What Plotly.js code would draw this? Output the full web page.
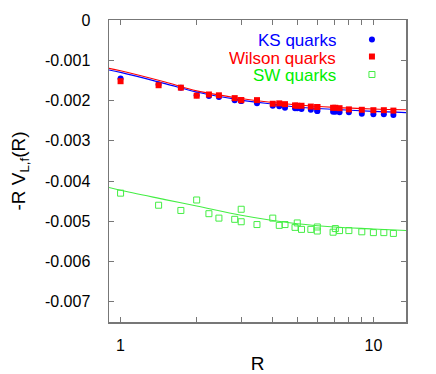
<!DOCTYPE html>
<html>
<head>
<meta charset="utf-8">
<script src="https://cdn.plot.ly/plotly-3.0.1.min.js"></script>
<style>
  html, body { margin: 0; padding: 0; background: #fff; }
  #plot { width: 436px; height: 374px; }
</style>
</head>
<body>
<div id="plot"></div>
<script>
// separation R (lattice units)
const R = [1, 1.414, 1.732, 2, 2.236, 2.449, 2.828, 3, 3, 3.464, 4, 4.243, 4.472, 4.899, 5,
  5.196, 5.657, 6, 6, 6.928, 7.071, 7.348, 8, 9, 10, 11, 12];

const ksVals = [-0.00145, -0.0016, -0.00168, -0.00187, -0.00189, -0.00191, -0.00199, -0.00201, -0.00201,
  -0.00207, -0.00213, -0.00214, -0.00218, -0.00219, -0.00219, -0.00221, -0.00223, -0.00226, -0.00226,
  -0.00228, -0.00228, -0.00229, -0.00229, -0.00233, -0.00234, -0.00234, -0.00236];

const wilsonVals = [-0.00152, -0.00162, -0.00168, -0.00188, -0.00185, -0.00187, -0.00194, -0.00199, -0.00199,
  -0.00199, -0.00208, -0.00207, -0.00209, -0.00212, -0.00213, -0.00213, -0.00215, -0.00216, -0.00216,
  -0.00218, -0.00218, -0.00219, -0.00222, -0.00223, -0.00224, -0.00224, -0.00225];

const swVals = [-0.0043, -0.0046, -0.00473, -0.00447, -0.00481, -0.00492, -0.00495, -0.0047, -0.00501,
  -0.00508, -0.00492, -0.0051, -0.00508, -0.00515, -0.00504, -0.0052, -0.0052, -0.00514, -0.00524,
  -0.00527, -0.00518, -0.00523, -0.00523, -0.00526, -0.00528, -0.00528, -0.0053];

// fit curves
const fitR = [0.9, 1, 1.5, 2, 3, 4, 5, 7, 10, 13.5];
const ksFit = [-0.00124, -0.0013, -0.00158, -0.00179, -0.00199, -0.00209, -0.00216, -0.00222, -0.00227, -0.0023];
const wilsonFit = [-0.0012, -0.00126, -0.00154, -0.00176, -0.00195, -0.00205, -0.00211, -0.00217, -0.00221, -0.00223];
const swFit = [-0.00416, -0.00423, -0.00446, -0.00462, -0.00485, -0.00498, -0.00506, -0.00514, -0.00519, -0.00523];

const seriesNames = ["KS quarks", "Wilson quarks", "SW quarks"];

const xTickVals = [1, 2, 3, 4, 5, 6, 7, 8, 9, 10];
const xTickText = ["1", "", "", "", "", "", "", "", "", "10"];
const yTickVals = [0, -0.001, -0.002, -0.003, -0.004, -0.005, -0.006, -0.007];
const yTickText = ["0", "-0.001", "-0.002", "-0.003", "-0.004", "-0.005", "-0.006", "-0.007"];

const BLUE = "#0000ff", RED = "#ff0000", GREEN = "#00ee00", LGREEN = "#44ee44";

function fitTrace(y, color) {
  return {
    type: "scatter", mode: "lines", x: fitR, y: y,
    line: { color: color, width: 1.1, shape: "spline" },
    showlegend: false, hoverinfo: "skip"
  };
}

const traces = [
  fitTrace(wilsonFit, RED),
  fitTrace(ksFit, BLUE),
  fitTrace(swFit, LGREEN),
  {
    type: "scatter", mode: "markers", x: R, y: ksVals, name: " ", legend: "legend",
    marker: { symbol: "circle", size: 6, color: BLUE }
  },
  {
    type: "scatter", mode: "markers", x: R, y: wilsonVals, name: " ", legend: "legend2",
    marker: { symbol: "square", size: 6, color: RED }
  },
  {
    type: "scatter", mode: "markers", x: R, y: swVals, name: " ", legend: "legend3",
    marker: { symbol: "square-open", size: 6, color: LGREEN, line: { width: 1 } }
  }
];

const font = { family: "Liberation Sans, Arial, sans-serif", size: 16, color: "#000" };

function legendAt(y) {
  return { x: 0.818, y: y, xanchor: "left", yanchor: "top", bgcolor: "rgba(0,0,0,0)", font: { size: 12 } };
}

const layout = {
  width: 436, height: 374,
  margin: { l: 109, r: 30, t: 20, b: 52 },
  paper_bgcolor: "#fff", plot_bgcolor: "#fff",
  font: font,
  showlegend: true,
  legend: legendAt(0.9834),
  legend2: legendAt(0.9271),
  legend3: legendAt(0.8676),
  xaxis: {
    type: "log", range: [Math.log10(0.9), Math.log10(13.46)],
    tickvals: xTickVals, ticktext: xTickText,
    ticks: "inside", ticklen: 5, tickcolor: "#777", tickwidth: 1,
    showline: true, linecolor: "#777", linewidth: 1.5, mirror: "ticks",
    showgrid: false, zeroline: false, ticklabelstandoff: 8,
    title: { text: "R", standoff: 8 }
  },
  yaxis: {
    range: [-0.0075, 0],
    tickvals: yTickVals, ticktext: yTickText,
    ticks: "inside", ticklen: 5, tickcolor: "#777", tickwidth: 1,
    showline: true, linecolor: "#777", linewidth: 1.5, mirror: "ticks",
    showgrid: false, zeroline: false, ticklabelstandoff: 14,
    title: { text: "-R V<sub>L,f</sub>(R)", standoff: 14 }
  },
  annotations: seriesNames.map((t, i) => ({
    xref: "paper", yref: "paper", x: 0.771, y: [0.9305, 0.874, 0.815][i],
    xanchor: "right", yanchor: "middle", showarrow: false, text: t, height: 17,
    font: { size: 17, color: [BLUE, RED, GREEN][i] }
  }))
};

Plotly.newPlot("plot", traces, layout, { staticPlot: true });
</script>
</body>
</html>
